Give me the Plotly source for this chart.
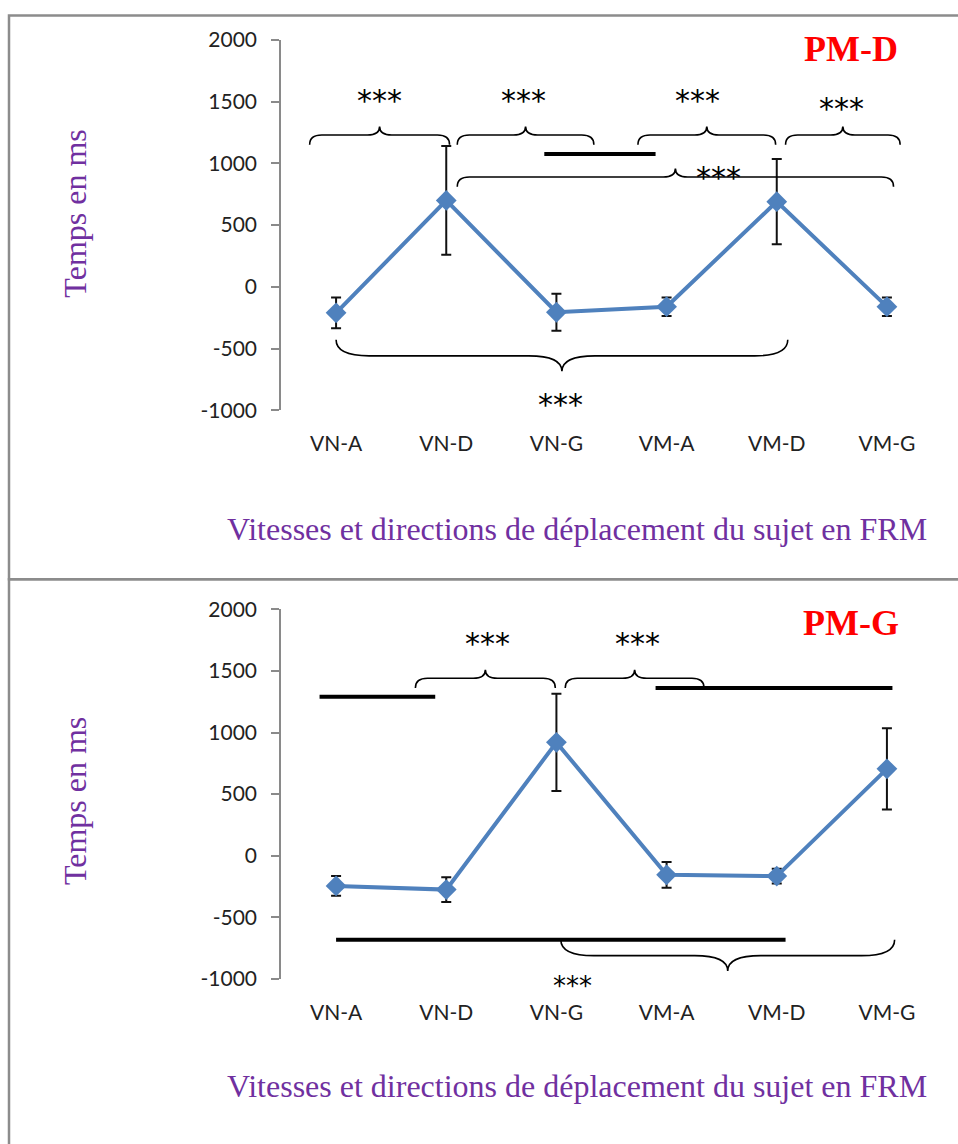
import plotly.graph_objects as go

# ---------------- data ----------------
categories = ["VN-A", "VN-D", "VN-G", "VM-A", "VM-D", "VM-G"]
pmd_mean = [-210, 700, -205, -160, 690, -160]
pmd_err = [125, 440, 150, 75, 345, 75]
pmg_mean = [-245, -275, 920, -155, -165, 705]
pmg_err = [80, 100, 395, 105, 60, 330]
y_ticks = [-1000, -500, 0, 500, 1000, 1500, 2000]
y_tick_labels = ["-1000", "-500", "0", "500", "1000", "1500", "2000"]
y_range = [-1000, 2000]

# significance braces: x_start, x_end (category index), y base, direction (+1 tip up / -1 tip down)
top_brace_x0 = [-0.24, 1.10, 2.74, 4.08, 1.10, 0.00]
top_brace_x1 = [1.03, 2.34, 3.99, 5.12, 5.06, 4.10]
top_brace_y = [1229, 1229, 1229, 1229, 889, -558]
top_brace_dir = [1, 1, 1, 1, 1, -1]
top_brace_big = [0, 0, 0, 0, 0, 1]
top_bar_x0 = [1.89]
top_bar_x1 = [2.90]
top_bar_y = [1075]
top_star_x = [0.39, 1.70, 3.28, 4.59, 3.47, 2.04]
top_star_y = [1555, 1555, 1555, 1490, 930, -905]
top_star_size = [30, 30, 30, 30, 30, 30]

bot_brace_x0 = [0.72, 2.08, 2.04]
bot_brace_x1 = [1.99, 3.34, 5.07]
bot_brace_y = [1440, 1440, -811]
bot_brace_dir = [1, 1, -1]
bot_brace_big = [0, 0, 1]
bot_bar_x0 = [-0.15, 2.90, 0.00]
bot_bar_x1 = [0.90, 5.05, 4.08]
bot_bar_y = [1290, 1362, -681]
bot_star_x = [1.37, 2.74, 2.15]
bot_star_y = [1775, 1775, -1012]
bot_star_size = [30, 30, 26]

W, H = 958, 1144
BLUE = "#4F81BD"
PURPLE = "#7030A0"
AXIS_GREY = "#8a8a8a"
TICK_FONT = dict(family="Lato", size=21, color="#222222")

# page-to-figure vertical calibration (measured)
OFF_Y, SCALE_Y = 12.2, 0.979


def px_x(p):
    return p / W


def px_y(p):
    return 1 - ((p - OFF_Y) / SCALE_Y) / H


x_dom = [px_x(281), px_x(942)]
top_dom = [px_y(409), px_y(38)]
bot_dom = [px_y(978), px_y(608)]
PX_PER_UNIT = (top_dom[1] - top_dom[0]) * H / (y_range[1] - y_range[0])


def zero_pos(dom):
    return dom[0] + (0 - y_range[0]) / (y_range[1] - y_range[0]) * (dom[1] - dom[0])


def brace_path(x0, x1, y, s, big):
    xm = (x0 + x1) / 2
    if big:
        r, e, h = 0.30, 130, 125
    else:
        r, e, h = 0.11, 78, 70
    return (f"M {x0},{y - s * e} Q {x0},{y} {x0 + r},{y} L {xm - r},{y} "
            f"Q {xm},{y} {xm},{y + s * h} Q {xm},{y} {xm + r},{y} "
            f"L {x1 - r},{y} Q {x1},{y} {x1},{y - s * e}")


fig = go.Figure()
xs = list(range(len(categories)))
for mean, err, xa, ya in [(pmd_mean, pmd_err, "x", "y"), (pmg_mean, pmg_err, "x2", "y2")]:
    fig.add_trace(go.Scatter(
        x=xs, y=mean, xaxis=xa, yaxis=ya, mode="lines+markers",
        line=dict(color=BLUE, width=4),
        marker=dict(symbol="diamond", size=16, color=BLUE),
        error_y=dict(type="data", array=err, visible=True, color="#111111",
                     thickness=2, width=5),
        showlegend=False, cliponaxis=False,
    ))


def xaxis_cfg(anchor):
    return dict(domain=x_dom, range=[-0.5, 5.5], tickvals=xs, ticktext=categories,
                showline=False, ticks="", showgrid=False, zeroline=False,
                tickfont=TICK_FONT, ticklabelstandoff=19, anchor=anchor)


def zero_axis_cfg(over, dom):
    return dict(overlaying=over, anchor="free", position=zero_pos(dom),
                range=[-0.5, 5.5], tickvals=[i - 0.5 for i in range(len(categories) + 1)],
                showticklabels=False, showline=True, linecolor=AXIS_GREY, linewidth=1.5,
                ticks="outside", ticklen=9, tickcolor=AXIS_GREY, tickwidth=1.5,
                showgrid=False, zeroline=False)


def yaxis_cfg(dom, anchor):
    return dict(domain=dom, range=y_range, tickvals=y_ticks, ticktext=y_tick_labels,
                showline=True, linecolor=AXIS_GREY, linewidth=1.5, ticks="outside", ticklen=8,
                tickcolor=AXIS_GREY, tickwidth=1.5, showgrid=False, zeroline=False,
                tickfont=TICK_FONT, ticklabelstandoff=10, anchor=anchor)


shapes = []
annotations = []


def add_panel(bx0, bx1, by, bdir, bbig, rx0, rx1, ry, sx, sy, ss, xr, yr):
    for a, b, y, d, g in zip(bx0, bx1, by, bdir, bbig):
        shapes.append(dict(type="path", path=brace_path(a, b, y, d, g), xref=xr, yref=yr,
                           line=dict(color="black", width=1.6)))
    for a, b, y in zip(rx0, rx1, ry):
        shapes.append(dict(type="line", x0=a, x1=b, y0=y, y1=y, xref=xr, yref=yr,
                           line=dict(color="black", width=4)))
    for x, y, sz in zip(sx, sy, ss):
        # annotations outside the axis range are hidden: clamp and shift in pixels
        yc = max(y, y_range[0] + 5)
        shift = -6 * sz / 30 + (y - yc) * PX_PER_UNIT
        annotations.append(dict(x=x, y=yc, xref=xr, yref=yr, text="***", showarrow=False,
                                font=dict(family="DejaVu Sans", size=sz, color="black"),
                                yshift=shift))


add_panel(top_brace_x0, top_brace_x1, top_brace_y, top_brace_dir, top_brace_big,
          top_bar_x0, top_bar_x1, top_bar_y, top_star_x, top_star_y, top_star_size, "x", "y")
add_panel(bot_brace_x0, bot_brace_x1, bot_brace_y, bot_brace_dir, bot_brace_big,
          bot_bar_x0, bot_bar_x1, bot_bar_y, bot_star_x, bot_star_y, bot_star_size, "x2", "y2")

# panel frames
for y0, y1 in [(8, 578), (578, 1170)]:
    top = min(px_y(y0), 1 - 1.5 / H)
    shapes.append(dict(type="rect", xref="paper", yref="paper", x0=px_x(9), x1=px_x(975),
                       y0=px_y(y1), y1=top, line=dict(color="#8c8c8c", width=2.5),
                       layer="below"))

TITLE_FONT = dict(family="Liberation Serif", size=32, color=PURPLE)
for label, cy, ycy, xcy in [("PM-D", 47, 212, 528), ("PM-G", 622, 800, 1085)]:
    annotations.append(dict(x=px_x(851), y=px_y(cy), xref="paper", yref="paper",
                            text="<b>" + label + "</b>", showarrow=False,
                            font=dict(family="Liberation Serif", size=36, color="#FF0000"),
                            xanchor="center", yanchor="middle"))
    annotations.append(dict(x=px_x(75), y=px_y(ycy), xref="paper", yref="paper",
                            text="Temps en ms", textangle=-90, showarrow=False,
                            font=TITLE_FONT, xanchor="center", yanchor="middle"))
    annotations.append(dict(x=px_x(577), y=px_y(xcy), xref="paper", yref="paper",
                            text="Vitesses et directions de déplacement du sujet en FRM",
                            showarrow=False, font=TITLE_FONT,
                            xanchor="center", yanchor="middle"))

fig.update_layout(
    width=W, height=H, margin=dict(l=0, r=0, t=0, b=0),
    paper_bgcolor="white", plot_bgcolor="rgba(0,0,0,0)",
    xaxis=xaxis_cfg("y"), yaxis=yaxis_cfg(top_dom, "x"),
    xaxis2=xaxis_cfg("y2"), yaxis2=yaxis_cfg(bot_dom, "x2"),
    xaxis3=zero_axis_cfg("x", top_dom), xaxis4=zero_axis_cfg("x2", bot_dom),
    shapes=shapes, annotations=annotations, showlegend=False,
)

fig.write_html(
    "out.html",
    config={"displayModeBar": False},
    post_script="document.body.style.margin='0';document.body.style.overflow='hidden';",
)
